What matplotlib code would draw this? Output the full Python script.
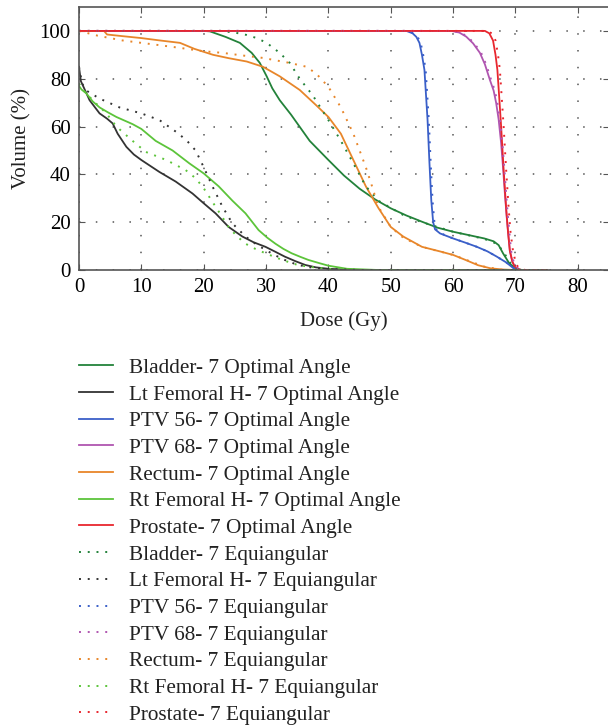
import numpy as np
import matplotlib.pyplot as plt

plt.rcParams['font.family'] = ['Liberation Serif', 'DejaVu Serif']

# dose (Gy) / volume (%) pairs
bladder_opt_x = [0, 20, 21, 23.5, 25.8, 27.7, 29, 30.1, 31, 32.2, 34, 37, 40, 42.5, 45, 47.5, 50, 52.5, 55, 57.5, 60, 62.5, 65, 66.5, 67.3, 68, 69, 70, 71, 75]
bladder_opt_y = [100, 100, 99.8, 97.5, 95, 90.8, 86.6, 81, 76, 71, 65, 54, 46, 39.5, 34, 29.5, 25.8, 22.8, 20.2, 17.7, 16, 14.6, 13.2, 12, 10.4, 7, 2.8, 0.7, 0, 0]
bladder_eq_x = [0, 22.6, 25, 26.9, 28.5, 30.1, 32.2, 33.8, 35.4, 37.5, 40, 42, 44, 46, 48, 50, 52, 55, 57.5, 60, 65, 67, 68, 69, 70, 71, 75]
bladder_eq_y = [100, 100, 99.3, 98.3, 97, 95, 90.8, 86.6, 80, 73, 62.7, 54, 44.6, 35, 29, 26, 23, 20, 18, 16, 13, 11, 8, 3.5, 0.5, 0, 0]

ltfem_opt_x = [0, 0.3, 1.7, 3.3, 4.5, 5.4, 6.2, 7.6, 8.8, 10, 12.9, 15.5, 18.2, 20, 21.9, 24, 26.2, 28, 29.9, 31.5, 33, 34.7, 36.3, 38, 40, 42.5, 45, 75]
ltfem_opt_y = [85, 79, 71, 65.5, 63.3, 61.3, 57, 51.5, 48.3, 46, 41, 37, 32, 27.9, 23.7, 18, 14, 11.6, 9.7, 7.6, 5.6, 3.7, 2.1, 1.1, 0.5, 0.2, 0, 0]
ltfem_eq_x = [0, 0.5, 1.2, 3.3, 6.5, 10, 12.9, 16, 17.5, 18.7, 20, 21.4, 23, 24.6, 26.7, 28.3, 29.9, 31.5, 33, 34.6, 36.3, 38, 40, 45, 75]
ltfem_eq_y = [85, 78, 75, 71.7, 68, 65.5, 62.7, 57, 53.5, 50, 43, 35, 26.5, 19.5, 14, 11, 8.4, 6.1, 4.2, 2.6, 1.4, 0.8, 0.4, 0, 0]

ptv56_opt_x = [0, 52.5, 53.5, 54.1, 54.6, 55.0, 55.4, 55.9, 56.2, 56.5, 56.8, 57.1, 57.9, 59, 60, 62, 63.8, 65.5, 67, 68.5, 69.7, 70.5, 75]
ptv56_opt_y = [100, 100, 99, 97.5, 95, 90, 83.7, 62.8, 45, 29, 20, 17, 15.3, 14.2, 13.2, 11.4, 9.7, 7.8, 5.6, 3.2, 0.7, 0, 0]
ptv56_eq_x = [0, 52.7, 53.7, 54.3, 54.8, 55.2, 55.6, 56.1, 56.4, 56.7, 57.0, 57.3, 58.1, 59, 60, 62, 63.8, 65.5, 67, 68.5, 69.8, 70.6, 75]
ptv56_eq_y = [100, 100, 99, 97.5, 95, 90, 83.7, 62.8, 45, 29, 20, 17, 15.3, 14.2, 13.2, 11.4, 9.7, 7.8, 5.6, 3.2, 0.7, 0, 0]

ptv68_opt_x = [0, 59.7, 61, 62.1, 63.2, 64.3, 65.1, 65.9, 66.5, 66.9, 67.3, 67.7, 68, 68.3, 68.6, 69.1, 69.5, 69.9, 70.5, 75]
ptv68_opt_y = [100, 100, 99.3, 97.6, 94.8, 90.8, 86, 79.5, 75, 69.9, 63, 53, 43, 32, 22, 8, 3.5, 1.4, 0, 0]
ptv68_eq_x = [0, 59.9, 61.2, 62.3, 63.4, 64.5, 65.3, 66.1, 66.7, 67.1, 67.5, 67.9, 68.2, 68.5, 68.8, 69.3, 69.7, 70.1, 70.7, 75]
ptv68_eq_y = [100, 100, 99.3, 97.6, 94.8, 90.8, 86, 79.5, 75, 69.9, 63, 53, 43, 32, 22, 8, 3.5, 1.4, 0, 0]

rectum_opt_x = [0, 4, 4.5, 7, 10, 13, 16.2, 18.5, 21.5, 24, 26.9, 29.5, 32.2, 35.4, 38, 40, 42, 44, 46, 48, 50, 52, 55, 58, 60, 62, 64, 66, 68, 70, 75]
rectum_opt_y = [100, 100, 98.5, 97.8, 97, 96, 95, 92.5, 90, 88.6, 87.2, 85, 81, 75.3, 69, 64, 57, 46, 35, 26, 18, 14, 9.7, 7.7, 6.3, 4.2, 2, 0.7, 0.2, 0, 0]
rectum_eq_x = [0, 3, 7, 10, 13, 16.2, 20, 23.1, 26, 29.5, 33.8, 36.5, 38.1, 40, 42, 44, 46, 47, 48, 50, 52, 55, 60, 65, 68, 75]
rectum_eq_y = [100, 98, 96, 95, 94, 92.9, 91.5, 90.8, 89.8, 88.7, 86.6, 85, 82, 76.6, 68, 57, 43, 35, 26.5, 18, 13.5, 9.7, 6.3, 1.4, 0, 0]

rtfem_opt_x = [0, 0.4, 1.2, 2.2, 3.3, 4.6, 6, 7.3, 8.6, 10, 12.3, 15, 17.7, 20, 22.4, 24.6, 26.7, 28.8, 30.2, 31.5, 32.8, 34.1, 35.5, 36.8, 38.5, 40, 43, 48, 75]
rtfem_opt_y = [77, 75.5, 73.8, 70.5, 68, 66, 64, 62.5, 61, 59, 54, 50, 44.6, 40.4, 35, 29, 23.7, 16.7, 13.5, 11, 8.8, 7, 5.5, 4.2, 2.9, 1.8, 0.5, 0, 0]
rtfem_eq_x = [0, 0.8, 2.2, 4.4, 6, 8.6, 10.7, 14, 17.1, 18.5, 19.8, 21.9, 24, 25.3, 26.7, 28.3, 29.9, 32.6, 35.2, 38, 41, 45, 75]
rtfem_eq_y = [78, 75, 71, 65.5, 60, 54, 49.4, 46, 41.8, 38.8, 35, 26.5, 18, 14.2, 11, 8.8, 7, 4.2, 2, 1, 0.3, 0, 0]

prost_opt_x = [0, 65.1, 65.8, 66.4, 66.8, 67.1, 67.4, 67.7, 68.1, 68.5, 68.8, 69.1, 69.5, 69.9, 70.5, 71, 75]
prost_opt_y = [100, 100, 99, 96, 90, 83.7, 72, 60, 42, 26, 16, 8, 3.5, 1.2, 0.3, 0, 0]
prost_eq_x = [0, 65.4, 66.2, 66.8, 67.2, 67.5, 67.8, 68.1, 68.5, 68.9, 69.2, 69.6, 70, 70.4, 71, 71.6, 75]
prost_eq_y = [100, 100, 99, 96, 90, 83.7, 72, 60, 42, 26, 16, 8, 3.5, 1.2, 0.3, 0, 0]

organs = ['Bladder', 'Lt Femoral H', 'PTV 56', 'PTV 68', 'Rectum', 'Rt Femoral H', 'Prostate']
colors = ['#23823a', '#333333', '#3a5fc8', '#b055b0', '#e8862a', '#5cc43a', '#e8262e']
opt = [(bladder_opt_x, bladder_opt_y), (ltfem_opt_x, ltfem_opt_y), (ptv56_opt_x, ptv56_opt_y),
       (ptv68_opt_x, ptv68_opt_y), (rectum_opt_x, rectum_opt_y), (rtfem_opt_x, rtfem_opt_y),
       (prost_opt_x, prost_opt_y)]
eq = [(bladder_eq_x, bladder_eq_y), (ltfem_eq_x, ltfem_eq_y), (ptv56_eq_x, ptv56_eq_y),
      (ptv68_eq_x, ptv68_eq_y), (rectum_eq_x, rectum_eq_y), (rtfem_eq_x, rtfem_eq_y),
      (prost_eq_x, prost_eq_y)]

fig = plt.figure(figsize=(6.08, 7.25), dpi=100)
ax = fig.add_axes([79/608, 1 - 270/725, 530/608, 263/725])

for name, c, (x, y) in zip(organs, colors, opt):
    ax.plot(x, y, color=c, lw=1.3, label=name + '- 7 Optimal Angle')
for name, c, (x, y) in zip(organs, colors, eq):
    ax.plot(x, y, color=c, lw=1.4, ls=(0, (1, 3.5)), label=name + '- 7 Equiangular')

ax.set_xlim(0, 85)
ax.set_ylim(0, 110)
ax.set_xticks(np.arange(0, 81, 10))
ax.set_yticks(np.arange(0, 101, 20))
ax.grid(True, color='#555555', lw=1.1, ls=(0, (1, 10)))
ax.tick_params(direction='in', top=True, right=True, labelsize=15, length=4, color='#555555')
ax.tick_params(axis='x', pad=6)
ax.tick_params(axis='y', pad=6)
for s in ax.spines.values():
    s.set_color('#555555')
    s.set_linewidth(1.2)
ax.set_xlabel('Dose (Gy)', fontsize=15, color='#222222', labelpad=10)
ax.set_ylabel('Volume (%)', fontsize=15, color='#222222', labelpad=6)

leg = fig.legend(loc='upper left', bbox_to_anchor=(79/608, 1 - 358/725), frameon=False,
                 fontsize=15.3, handlelength=1.6, handletextpad=0.75, labelspacing=0.32,
                 borderpad=0, borderaxespad=0)
for t in leg.get_texts():
    t.set_color('#222222')

fig.savefig('out.png', dpi=100)
